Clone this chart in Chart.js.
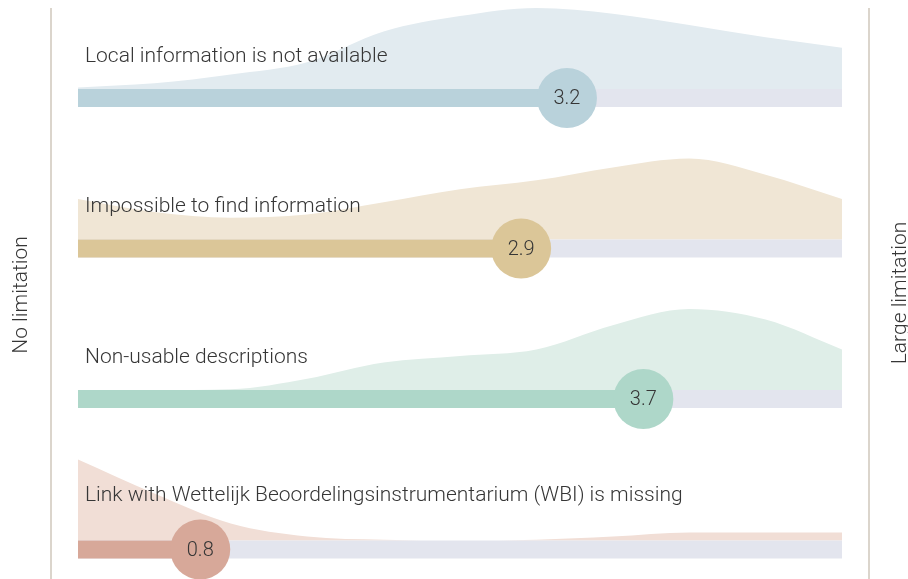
<!DOCTYPE html>
<html>
<head>
<meta charset="utf-8">
<script src="https://cdn.jsdelivr.net/npm/chart.js"></script>
<style>
  html, body { margin: 0; padding: 0; background: #fff; }
  #wrap { width: 908px; height: 579px; position: relative; }
</style>
</head>
<body>
<div id="wrap"><canvas id="chart"></canvas></div>
<script>
// Dados
const categorias = [
  'Local information is not available',
  'Impossible to find information',
  'Non-usable descriptions',
  'Link with Wettelijk Beoordelingsinstrumentarium (WBI) is missing'
];
const medias = [3.2, 2.9, 3.7, 0.8];
const escalaMin = 0;
const escalaMax = 5;
const extremos = ['No limitation', 'Large limitation'];

// distribuição das respostas (altura relativa ao pico de cada linha)
const pontosX = [0, 0.5, 1, 1.5, 2, 2.5, 3, 3.5, 4, 4.5, 5];
const densLocal = [0.02, 0.07, 0.18, 0.33, 0.71, 0.90, 1.00, 0.93, 0.79, 0.64, 0.51];
const densImpossivel = [0.50, 0.34, 0.27, 0.31, 0.46, 0.62, 0.73, 0.89, 1.00, 0.80, 0.50];
const densDescricoes = [0, 0, 0.01, 0.14, 0.34, 0.42, 0.50, 0.80, 1.00, 0.87, 0.50];
const densWbi = [1.00, 0.58, 0.21, 0.05, 0.01, 0, 0.01, 0.05, 0.10, 0.10, 0.10];
const densidades = [densLocal, densImpossivel, densDescricoes, densWbi];

const coresBarra = ['#b9d2db', '#dbc698', '#aed7c9', '#d7a899'];
const coresArea = ['#e2ebf0', '#f0e6d5', '#dfeee8', '#f1ded6'];
const corTrilho = '#e3e5ee';
const corLinha = '#d0c7bc';
const corTexto = '#363636';

// Layout (px)
const ALTURA = 579;
const CENTRO_1 = 98;      // centro da primeira barra
const ESPACO = 150.5;     // distância entre linhas
const ESPESSURA = 18;
const ALTURA_DENS = 81;
const RAIO = 30;
const PX_X = 764 / (escalaMax - escalaMin);

const u = 1 / ESPACO;
const yMin = -CENTRO_1 * u;
const yMax = (ALTURA - CENTRO_1) * u;

const datasets = [];

categorias.forEach((cat, i) => {
  const topo = i - (ESPESSURA / 2) * u;

  // área de densidade
  datasets.push({
    data: pontosX.map((x, k) => ({ x, y: topo - densidades[i][k] * ALTURA_DENS * u })),
    fill: { value: topo },
    backgroundColor: coresArea[i],
    borderWidth: 0,
    pointRadius: 0,
    cubicInterpolationMode: 'monotone',
    order: 5
  });

  // trilho
  datasets.push({
    data: [{ x: escalaMin, y: i }, { x: escalaMax, y: i }],
    borderColor: corTrilho,
    borderWidth: ESPESSURA,
    pointRadius: 0,
    order: 4
  });

  // barra até a média
  datasets.push({
    data: [{ x: escalaMin, y: i }, { x: medias[i], y: i }],
    borderColor: coresBarra[i],
    borderWidth: ESPESSURA,
    pointRadius: 0,
    order: 3
  });

  // círculo da média
  datasets.push({
    data: [{ x: medias[i], y: i }],
    showLine: false,
    pointRadius: RAIO,
    pointBackgroundColor: coresBarra[i],
    pointBorderWidth: 0,
    clip: false,
    order: 2
  });
});

// linhas verticais nas extremidades
[escalaMin - 27 / PX_X, escalaMax + 27 / PX_X].forEach(xv => {
  datasets.push({
    data: [{ x: xv, y: yMin + 8 * u }, { x: xv, y: yMax + 0.1 }],
    borderColor: corLinha,
    borderWidth: 1.5,
    pointRadius: 0,
    clip: false,
    order: 6
  });
});

const textos = {
  id: 'textos',
  afterDatasetsDraw(chart) {
    const { ctx, scales: { x, y } } = chart;
    ctx.save();
    ctx.fillStyle = corTexto;

    categorias.forEach((cat, i) => {
      const cy = y.getPixelForValue(i);
      const cx = x.getPixelForValue(medias[i]);
      const x0 = x.getPixelForValue(escalaMin) + 7;
      ctx.font = '300 21px Roboto';
      const largura = ctx.measureText(cat).width;
      let base = cy - ESPESSURA / 2 - 27.5;
      // sobe o rótulo se ele passar por cima do círculo
      if (x0 + largura > cx - RAIO && x0 < cx + RAIO) base = cy - RAIO - 18.5;
      ctx.textAlign = 'left';
      ctx.textBaseline = 'alphabetic';
      ctx.fillText(cat, x0, base);

      ctx.font = '300 20px Roboto';
      ctx.textAlign = 'center';
      ctx.textBaseline = 'middle';
      ctx.fillText(medias[i].toFixed(1), cx, cy + 1);
    });

    // rótulos laterais
    ctx.font = '300 21px Roboto';
    ctx.textAlign = 'center';
    ctx.textBaseline = 'alphabetic';
    ctx.save();
    ctx.translate(27, 295);
    ctx.rotate(-Math.PI / 2);
    ctx.fillText(extremos[0], 0, 0);
    ctx.restore();
    ctx.save();
    ctx.translate(906, 293);
    ctx.rotate(-Math.PI / 2);
    ctx.fillText(extremos[1], 0, 0);
    ctx.restore();

    ctx.restore();
  }
};

new Chart(document.getElementById('chart').getContext('2d'), {
  type: 'line',
  data: { datasets },
  options: {
    responsive: true,
    maintainAspectRatio: false,
    animation: false,
    events: [],
    layout: { autoPadding: false, padding: { left: 78, right: 66, top: 0, bottom: 0 } },
    scales: {
      x: { type: 'linear', min: escalaMin, max: escalaMax, display: false },
      y: { type: 'linear', min: yMin, max: yMax, reverse: true, display: false }
    },
    plugins: { legend: { display: false }, tooltip: { enabled: false } }
  },
  plugins: [textos]
});
</script>
</body>
</html>
